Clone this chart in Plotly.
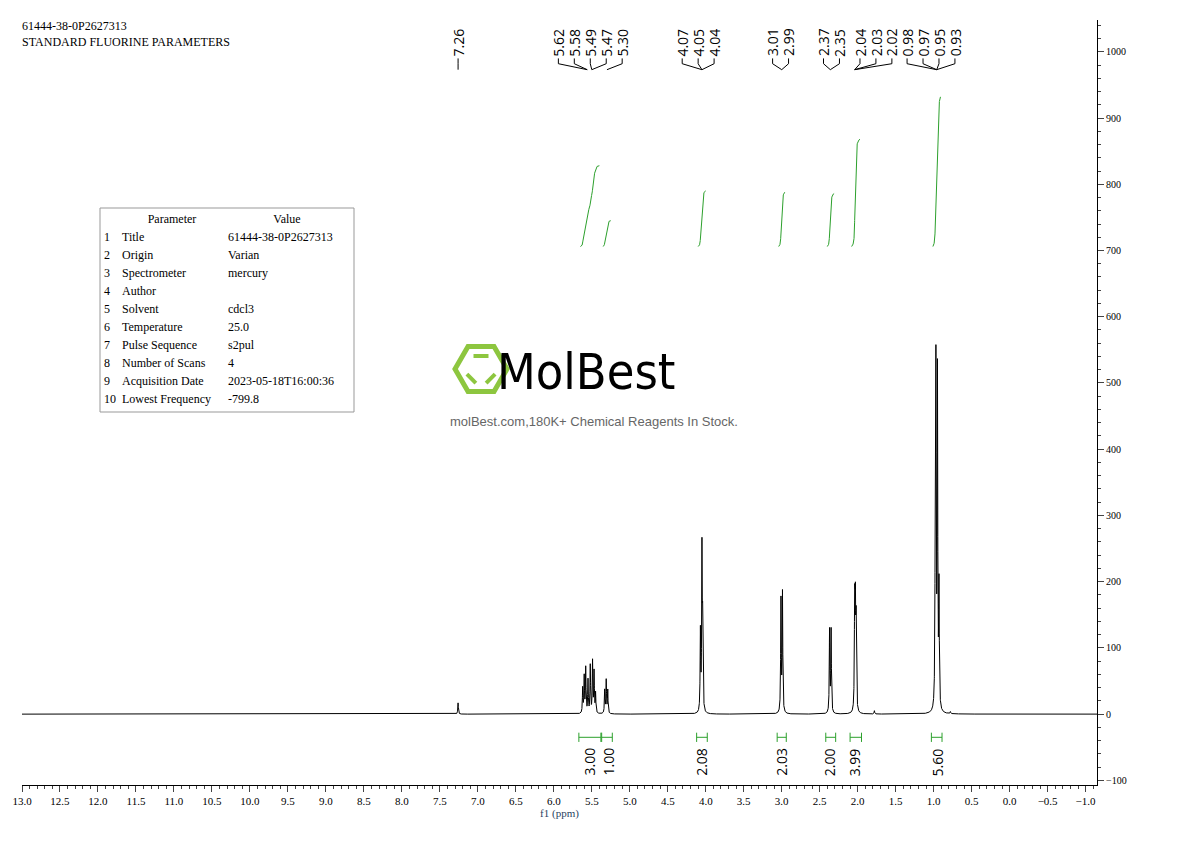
import numpy as np
import plotly.graph_objects as go

# peak list (ppm, intensity)
peak_ppm = [7.26, 5.62, 5.60, 5.58, 5.55, 5.52, 5.49, 5.47, 5.45, 5.33, 5.31, 5.29,
            4.07, 4.05, 4.04, 3.01, 2.99, 2.37, 2.35, 2.04, 2.03, 2.02, 1.78,
            0.98, 0.97, 0.95, 0.93, 0.78]
peak_int = [17, 38, 55, 68, 50, 72, 78, 62, 30, 35, 50, 35,
            120, 240, 125, 170, 180, 125, 125, 165, 150, 130, 5,
            190, 500, 500, 180, 3]

# integral regions: start ppm, end ppm, top level of curve
int_start = [5.65, 5.35, 4.10, 3.04, 2.40, 2.08, 1.01]
int_end = [5.40, 5.25, 4.00, 2.96, 2.31, 1.97, 0.91]
int_top = [828, 745, 790, 788, 786, 868, 932]
int_base = 706

# integral labels
int_label_ppm = [5.53, 5.28, 4.05, 3.00, 2.36, 2.03, 0.95]
int_label = ["3.00", "1.00", "2.08", "2.03", "2.00", "3.99", "5.60"]

# peak-pick labels (text, label position ppm, peak ppm)
pick_text = ["7.26", "5.62", "5.58", "5.49", "5.47", "5.30", "4.07", "4.05", "4.04",
             "3.01", "2.99", "2.37", "2.35", "2.04", "2.03", "2.02", "0.98", "0.97", "0.95", "0.93"]
pick_label_x = [7.26, 5.94, 5.73, 5.52, 5.31, 5.10, 4.31, 4.10, 3.89,
                3.12, 2.91, 2.45, 2.24, 1.97, 1.76, 1.55, 1.35, 1.14, 0.93, 0.72]
pick_peak_x = [7.26, 5.56, 5.56, 5.50, 5.50, 5.30, 4.05, 4.05, 4.05,
               3.00, 3.00, 2.36, 2.36, 2.04, 2.04, 2.04, 0.96, 0.96, 0.96, 0.96]

params = ["Title", "Origin", "Spectrometer", "Author", "Solvent", "Temperature",
          "Pulse Sequence", "Number of Scans", "Acquisition Date", "Lowest Frequency"]
values = ["61444-38-0P2627313", "Varian", "mercury", "", "cdcl3", "25.0",
          "s2pul", "4", "2023-05-18T16:00:36", "-799.8"]

x = np.linspace(13.0, -1.15, 30000)
w = 0.0045
y = np.zeros_like(x)
for p, h in zip(peak_ppm, peak_int):
    y += h / (1 + ((x - p) / w) ** 2)

fig = go.Figure()
fig.add_trace(go.Scatter(x=x, y=y, mode="lines", line=dict(color="black", width=1),
                         hoverinfo="skip"))

green = "#2ca02c"
for s, e, top in zip(int_start, int_end, int_top):
    m = (x <= s) & (x >= e)
    xs = x[m]
    c = np.cumsum(y[m])
    c = int_base + (c - c[0]) / (c[-1] - c[0]) * (top - int_base)
    fig.add_trace(go.Scatter(x=xs, y=c, mode="lines", line=dict(color=green, width=1),
                             hoverinfo="skip"))

for s, e, lp, lt in zip(int_start, int_end, int_label_ppm, int_label):
    a, b = s + 0.02, e - 0.02
    fig.add_shape(type="line", x0=a, x1=b, y0=-35, y1=-35, line=dict(color=green, width=1))
    for xx in (a, b):
        fig.add_shape(type="line", x0=xx, x1=xx, y0=-28, y1=-42, line=dict(color=green, width=1))
    fig.add_annotation(x=lp, y=-48, text=lt, textangle=-90, showarrow=False, yanchor="top",
                       font=dict(family="Open Sans", size=14, color="black"))

for t, lx, px_ in zip(pick_text, pick_label_x, pick_peak_x):
    fig.add_annotation(x=lx, y=990, text=t, textangle=-90, showarrow=False, yanchor="bottom",
                       font=dict(family="Open Sans", size=14, color="black"))
    fig.add_shape(type="line", x0=lx, x1=lx, y0=990, y1=982, line=dict(color="black", width=1))
    fig.add_shape(type="line", x0=lx, x1=px_, y0=982, y1=973, line=dict(color="black", width=1))

serif = "Liberation Serif"
# page has an 8px body margin, so the figure is offset by 8px
OFF = 8
W, H, L, R, T, B = 1190, 841, 14, 101, 12, 64
pw, ph = W - L - R, H - T - B
def px(v): return (v - OFF - L) / pw
def py(v): return 1 - (v - OFF - T) / ph

fig.add_annotation(xref="paper", yref="paper", x=px(20), y=py(34), xanchor="left", yanchor="middle",
                   text="61444-38-0P2627313<br>STANDARD FLUORINE PARAMETERS", align="left",
                   showarrow=False, font=dict(family=serif, size=12, color="black"))

# parameter table, drawn as text on an overlay axis spanning the plot area
fig.add_shape(type="rect", xref="paper", yref="paper", x0=px(100), x1=px(354), y0=py(208), y1=py(412),
              line=dict(color="#999", width=1))
tx, ty, tt = [px(172), px(287)], [py(220), py(220)], ["Parameter", "Value"]
fig.add_trace(go.Scatter(x=tx, y=ty, text=tt, mode="text", textposition="middle center",
                         textfont=dict(family=serif, size=12, color="black"),
                         xaxis="x2", yaxis="y2", hoverinfo="skip"))
lx_, ly_, lt_ = [], [], []
for i, (p, v) in enumerate(zip(params, values)):
    yy = py(238 + i * 18)
    for xx, s in ((104, str(i + 1)), (122, p), (228, v)):
        if s:
            lx_.append(px(xx)); ly_.append(yy); lt_.append(s)
fig.add_trace(go.Scatter(x=lx_, y=ly_, text=lt_, mode="text", textposition="middle right",
                         textfont=dict(family=serif, size=12, color="black"),
                         xaxis="x2", yaxis="y2", hoverinfo="skip"))

# watermark logo
cx, cy, r = 481, 369, 26
hexpts = [(cx + r * np.cos(np.radians(a)), cy + r * np.sin(np.radians(a))) for a in range(0, 360, 60)]
path = "M " + " L ".join(f"{px(a):.4f},{py(b):.4f}" for a, b in hexpts) + " Z"
fig.add_shape(type="path", xref="paper", yref="paper", path=path, line=dict(color="#8dc63f", width=5))
for a0, a1 in [(240, 300), (20, 70), (110, 160)]:
    rr = 15
    p0 = (cx + rr * np.cos(np.radians(a0)), cy + rr * np.sin(np.radians(a0)))
    p1 = (cx + rr * np.cos(np.radians(a1)), cy + rr * np.sin(np.radians(a1)))
    fig.add_shape(type="line", xref="paper", yref="paper", x0=px(p0[0]), y0=py(p0[1]),
                  x1=px(p1[0]), y1=py(p1[1]), line=dict(color="#8dc63f", width=4))
fig.add_annotation(xref="paper", yref="paper", x=px(586), y=py(372), text="MolBest", showarrow=False,
                   font=dict(family="DejaVu Sans Condensed", size=50, color="black"))
fig.add_annotation(xref="paper", yref="paper", x=px(594), y=py(421),
                   text="molBest.com,180K+ Chemical Reagents In Stock.", showarrow=False,
                   font=dict(family="Liberation Sans", size=13, color="#666"))

fig.update_layout(
    width=W, height=H, margin=dict(l=L, r=R, t=T, b=B, autoexpand=False),
    plot_bgcolor="white", paper_bgcolor="white", showlegend=False,
    xaxis=dict(range=[13.0, -1.15], tickmode="array",
               tickvals=[13 - 0.5 * i for i in range(29)],
               ticktext=[f"{13 - 0.5 * i:.1f}".replace("-", "−") for i in range(29)],
               ticks="outside", ticklen=6, showline=True, linecolor="black", showgrid=False,
               zeroline=False, minor=dict(dtick=0.1, ticks="outside", ticklen=3),
               tickfont=dict(family=serif, size=11, color="black"),
               title=dict(text="f1 (ppm)", font=dict(family=serif, size=11), standoff=2)),
    yaxis=dict(range=[-107, 1048], side="right", dtick=100, ticks="outside", ticklen=6,
               showline=True, linecolor="black", showgrid=False, zeroline=False,
               minor=dict(dtick=20, ticks="outside", ticklen=3),
               tickfont=dict(family=serif, size=10, color="black")),
    xaxis2=dict(overlaying="x", range=[0, 1], visible=False),
    yaxis2=dict(overlaying="y", range=[0, 1], visible=False),
)
fig.write_html("out.html")
